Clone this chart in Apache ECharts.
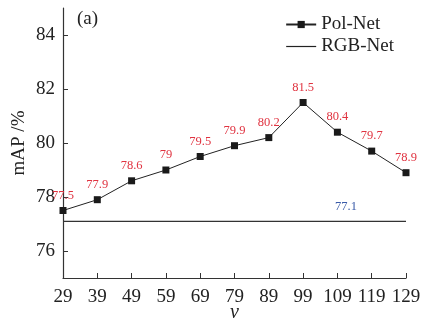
<!DOCTYPE html>
<html>
<head>
<meta charset="utf-8">
<script src="https://cdn.jsdelivr.net/npm/echarts@6/dist/echarts.min.js"></script>
<style>
  html, body { margin: 0; padding: 0; background: #fff; }
  #chart { width: 425px; height: 325px; }
</style>
</head>
<body>
<div id="chart"></div>
<script>
var v_values = ['29', '39', '49', '59', '69', '79', '89', '99', '109', '119', '129']
var pol_net = [77.5, 77.9, 78.6, 79, 79.5, 79.9, 80.2, 81.5, 80.4, 79.7, 78.9]
var rgb_net = [77.1, 77.1, 77.1, 77.1, 77.1, 77.1, 77.1, 77.1, 77.1, 77.1, 77.1]
var y_ticks = [76, 78, 80, 82, 84]

var serif = '"Liberation Serif", "DejaVu Serif", serif'
var chart = echarts.init(document.getElementById('chart'))

var option = {
    animation: false,
    textStyle: { fontFamily: serif },
    grid: { left: 63, right: 19, top: 8, bottom: 47, containLabel: false, outerBoundsMode: 'none' },
    title: {
        text: '(a)', left: 72, top: 5,
        textStyle: { fontFamily: serif, fontSize: 19, fontWeight: 'normal', color: '#222' }
    },
    legend: {
        right: 26, top: 10, orient: 'vertical', itemGap: 3,
        itemWidth: 30, itemHeight: 9,
        textStyle: { fontFamily: serif, fontSize: 19, color: '#222' },
        data: [
            { name: 'Pol-Net' },
            { name: 'RGB-Net', icon: 'path://M0,0 L30,0 L30,1.2 L0,1.2 Z' }
        ]
    },
    xAxis: {
        type: 'category',
        data: v_values,
        boundaryGap: false,
        name: 'v',
        nameLocation: 'middle',
        nameGap: 25,
        nameMoveOverlap: false,
        nameTextStyle: { fontFamily: serif, fontSize: 20, fontStyle: 'italic', color: '#222' },
        axisLine: { lineStyle: { color: '#333', width: 1.2 } },
        axisTick: { inside: true, length: 5, alignWithLabel: true, lineStyle: { color: '#333' } },
        axisLabel: { fontFamily: serif, fontSize: 19, color: '#222', margin: 10, interval: 0 },
        splitLine: { show: false }
    },
    yAxis: {
        type: 'value',
        min: 75, max: 85,
        name: 'mAP /%',
        nameLocation: 'middle',
        nameGap: 34,
        nameMoveOverlap: false,
        nameTextStyle: { fontFamily: serif, fontSize: 19, color: '#222' },
        axisLine: { show: true, lineStyle: { color: '#333', width: 1.2 } },
        axisTick: { show: true, inside: true, length: 5, customValues: y_ticks, lineStyle: { color: '#333' } },
        axisLabel: { fontFamily: serif, fontSize: 19, color: '#222', margin: 8, customValues: y_ticks },
        splitLine: { show: false }
    },
    series: [
        {
            name: 'Pol-Net',
            type: 'line',
            data: pol_net,
            symbol: 'rect',
            symbolSize: 7,
            itemStyle: { color: '#1a1a1a' },
            lineStyle: { color: '#222', width: 1 },
            label: {
                show: true, position: 'top', distance: 5,
                fontFamily: serif, fontSize: 12.5, color: '#e03340'
            },
            z: 3
        },
        {
            name: 'RGB-Net',
            type: 'line',
            data: rgb_net,
            symbol: 'none',
            itemStyle: { color: '#222' },
            lineStyle: { color: '#333', width: 1.2 },
            endLabel: {
                show: true, formatter: '{c}', offset: [-79, -15],
                fontFamily: serif, fontSize: 12.5, color: '#3a5ba8'
            }
        }
    ]
}
chart.setOption(option)
</script>
</body>
</html>
